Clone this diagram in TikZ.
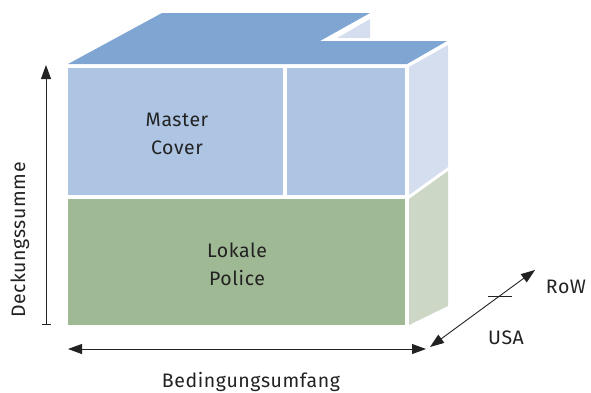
\documentclass[tikz,border=0pt]{standalone}
\usepackage{fontspec}
\setmainfont{Fira Sans}[LetterSpace=3]
\usetikzlibrary{arrows.meta}
\definecolor{topblue}{HTML}{7FA5D3}
\definecolor{frontblue}{HTML}{ADC4E3}
\definecolor{sideblue}{HTML}{D5DEEF}
\definecolor{frontgreen}{HTML}{A0B995}
\definecolor{sidegreen}{HTML}{CCD8C5}
\definecolor{txt}{HTML}{222222}
\tikzset{
  face/.style={draw=none},
  lbl/.style={text=txt, font=\fontsize{19.5}{28}\selectfont, align=center, inner sep=0pt},
  dim/.style={line width=0.9pt, draw=txt, {Triangle[length=14pt,width=10pt]}-{Triangle[length=14pt,width=10pt]}},
}
\begin{document}
\begin{tikzpicture}[x=1pt,y=-1pt]
\useasboundingbox (0,0) rectangle (591,392);
% top face
\fill[topblue,face] (68,64) -- (162,13) -- (370,13) -- (320,41) -- (447,41) -- (407,64) -- cycle;
\fill[sideblue,face] (337,38) -- (370,19) -- (370,38) -- cycle;
% front faces
\fill[frontblue,face] (68,68) rectangle (283,195);
\fill[frontblue,face] (287,68) rectangle (405,195);
\fill[frontgreen,face] (68,199) rectangle (405,325);
% side faces
\fill[sideblue,face] (409,67) -- (448,45) -- (448,167) -- (409,195) -- cycle;
\fill[sidegreen,face] (409,199) -- (448,171) -- (448,306) -- (409,325) -- cycle;
% texts
\node[lbl] (master) at (177,134) {Master\\Cover};
\node[lbl] (lokale) at (237,264) {Lokale\\Police};
% arrows
\coordinate (vb) at (46,325);
\coordinate (vt) at (46,65);
\draw[line width=0.9pt, draw=txt, {Bar[width=9pt]}-{Triangle[length=14pt,width=10pt]}] (vb) -- (vt);
\node[lbl, rotate=90, anchor=base] (deck) at (25,240) {Deckungssumme};
\coordinate (hl) at (68,349);
\coordinate (hr) at (426,349);
\draw[dim] (hl) -- (hr);
\node[lbl, anchor=base] (bed) at (251,387) {Bedingungsumfang};
\coordinate (dl) at (430,347);
\coordinate (du) at (535,270);
\draw[dim] (dl) -- (du);
\coordinate (tl) at (488,296);
\coordinate (tr) at (512,296);
\draw[line width=0.9pt, draw=txt] (tl) -- (tr);
\node[lbl, anchor=base] (row) at (566,293) {RoW};
\node[lbl, anchor=base] (usa) at (506,344) {USA};
\end{tikzpicture}
\end{document}
